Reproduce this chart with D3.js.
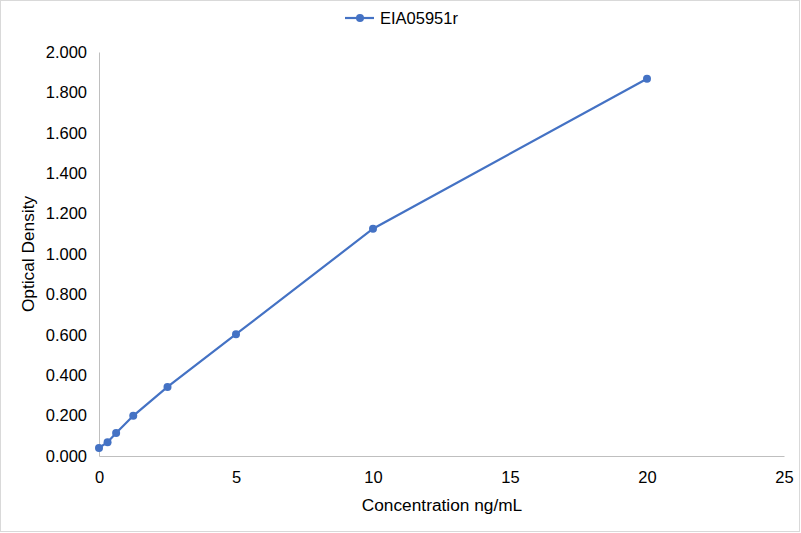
<!DOCTYPE html>
<html>
<head>
<meta charset="utf-8">
<script src="https://cdn.jsdelivr.net/npm/d3@7"></script>
<style>
  body { margin: 0; background: #fff; }
  text { font-family: "Liberation Sans", Arial, sans-serif; fill: #000; }
</style>
</head>
<body>
<svg id="chart" width="801" height="533"></svg>
<script>
var seriesName = "EIA05951r";
var concentration = [0, 0.3125, 0.625, 1.25, 2.5, 5, 10, 20];
var density = [0.040, 0.068, 0.114, 0.199, 0.342, 0.603, 1.125, 1.868];
var xTicks = [0, 5, 10, 15, 20, 25];
var yTicks = [0, 0.2, 0.4, 0.6, 0.8, 1.0, 1.2, 1.4, 1.6, 1.8, 2.0];

var svg = d3.select("#chart"),
    margin = {top: 52, right: 17, bottom: 77, left: 99},
    width = +svg.attr("width") - margin.left - margin.right,
    height = +svg.attr("height") - margin.top - margin.bottom;

var blue = "#4472c4";

// outer chart border
svg.append("rect")
    .attr("x", 0.5).attr("y", 0.5)
    .attr("width", 799).attr("height", 531)
    .attr("fill", "#fff")
    .attr("stroke", "#d9d9d9");

var g = svg.append("g").attr("transform", "translate(" + margin.left + "," + margin.top + ")");

var x = d3.scaleLinear().domain([0, 25]).range([0, width]);
var y = d3.scaleLinear().domain([0, 2]).range([height, 0]);

var data = concentration.map(function(c, i) { return {x: c, y: density[i]}; });

// axes
var xAxis = g.append("g")
    .attr("transform", "translate(0," + height + ")")
    .call(d3.axisBottom(x).tickValues(xTicks).tickSize(0).tickPadding(15).tickFormat(d3.format("d")));
var yAxis = g.append("g")
    .call(d3.axisLeft(y).tickValues(yTicks).tickSize(0).tickPadding(12).tickFormat(d3.format(".3f")));

[xAxis, yAxis].forEach(function(a) {
    a.select(".domain").attr("stroke", "#bfbfbf").attr("stroke-width", 1);
    a.selectAll("text").attr("font-size", 16.5).attr("font-family", "Liberation Sans, Arial, sans-serif").attr("fill", "#000");
});

// line + markers
var line = d3.line().x(function(d) { return x(d.x); }).y(function(d) { return y(d.y); });

g.append("path")
    .datum(data)
    .attr("fill", "none")
    .attr("stroke", blue)
    .attr("stroke-width", 2.2)
    .attr("d", line);

g.selectAll(".dot")
    .data(data)
    .enter().append("circle")
    .attr("class", "dot")
    .attr("cx", function(d) { return x(d.x); })
    .attr("cy", function(d) { return y(d.y); })
    .attr("r", 4)
    .attr("fill", blue);

// axis titles
svg.append("text")
    .attr("x", 442)
    .attr("y", 511)
    .attr("text-anchor", "middle")
    .attr("font-size", 17.3)
    .text("Concentration ng/mL");

svg.append("text")
    .attr("transform", "translate(34,254) rotate(-90)")
    .attr("text-anchor", "middle")
    .attr("font-size", 17.3)
    .text("Optical Density");

// legend
var legend = svg.append("g").attr("transform", "translate(345,18)");
legend.append("line")
    .attr("x1", 0).attr("x2", 29)
    .attr("stroke", blue).attr("stroke-width", 2.2);
legend.append("circle")
    .attr("cx", 15).attr("r", 4).attr("fill", blue);
legend.append("text")
    .attr("x", 35).attr("dy", "0.35em")
    .attr("font-size", 16.5)
    .text(seriesName);
</script>
</body>
</html>
